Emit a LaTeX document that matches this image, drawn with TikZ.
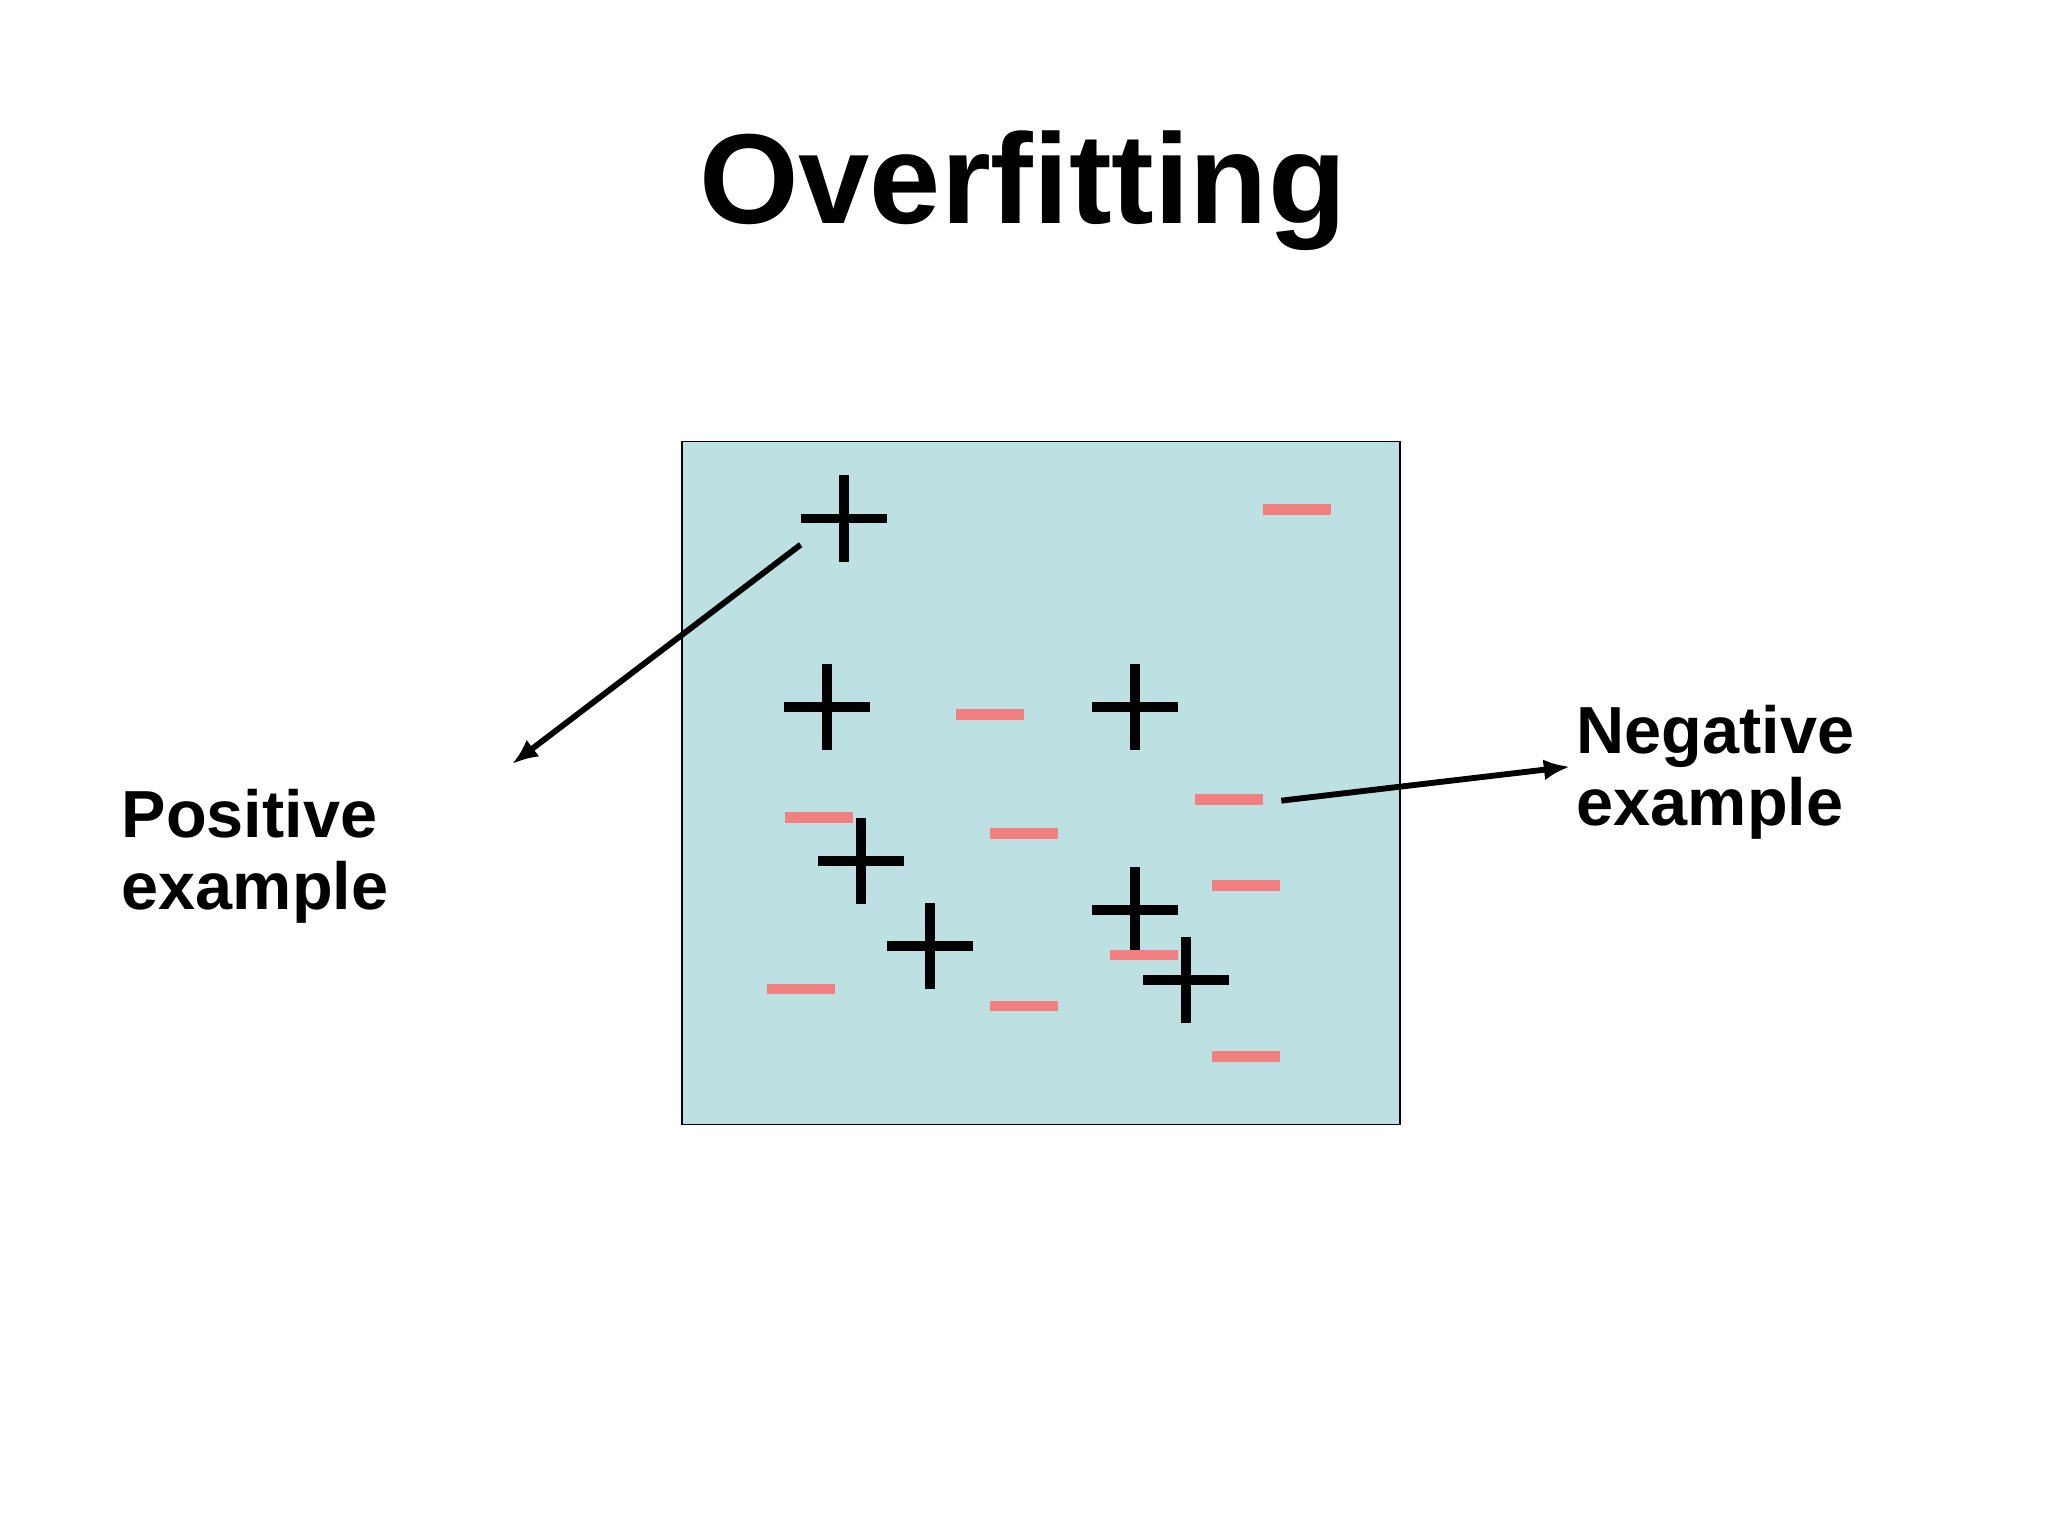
\documentclass[tikz,border=0pt]{standalone}
\usepackage{fontspec}
\setmainfont{Liberation Sans}
\usetikzlibrary{arrows.meta}
\begin{document}
\begin{tikzpicture}[x=1pt,y=-1pt,
  pl/.style={line width=7.5pt},
  mn/.style={line width=8pt,draw={rgb,255:red,242;green,128;blue,128}},
  lbl/.style={font=\fontsize{51}{61}\selectfont\bfseries,align=left,anchor=north west,inner sep=0pt},
  arr/.style={line width=4.5pt,-{Latex[length=20pt,width=16pt]}}]
\useasboundingbox (0,0) rectangle (1568,1175);
\node (title) at (783,146) {\fontsize{98}{112}\selectfont\bfseries Overfitting};
\draw[fill={rgb,255:red,189;green,224;blue,226},line width=1.2pt] (522,338) rectangle (1072,861);
\foreach \x/\y in {646/397,633/541,869/541,659/659,712/724,869/697,908/750}
  \draw[pl] (\x-33,\y) -- (\x+33,\y) (\x,\y-33) -- (\x,\y+33);
\foreach \x/\y in {993/390,758/547,627/626,784/638,941/612,954/678,613/757,784/770,876/731,954/809}
  \draw[mn] (\x-26,\y) -- (\x+26,\y);
\node[lbl] (pos) at (93,604) {Positive\\[-6pt]example};
\node[lbl] (neg) at (1207,540) {Negative\\[-6pt]example};
\coordinate (a1) at (613,417); \coordinate (a2) at (392,585);
\coordinate (b1) at (981,613); \coordinate (b2) at (1202,587);
\draw[arr] (a1) -- (a2);
\draw[arr] (b1) -- (b2);
\end{tikzpicture}
\end{document}
